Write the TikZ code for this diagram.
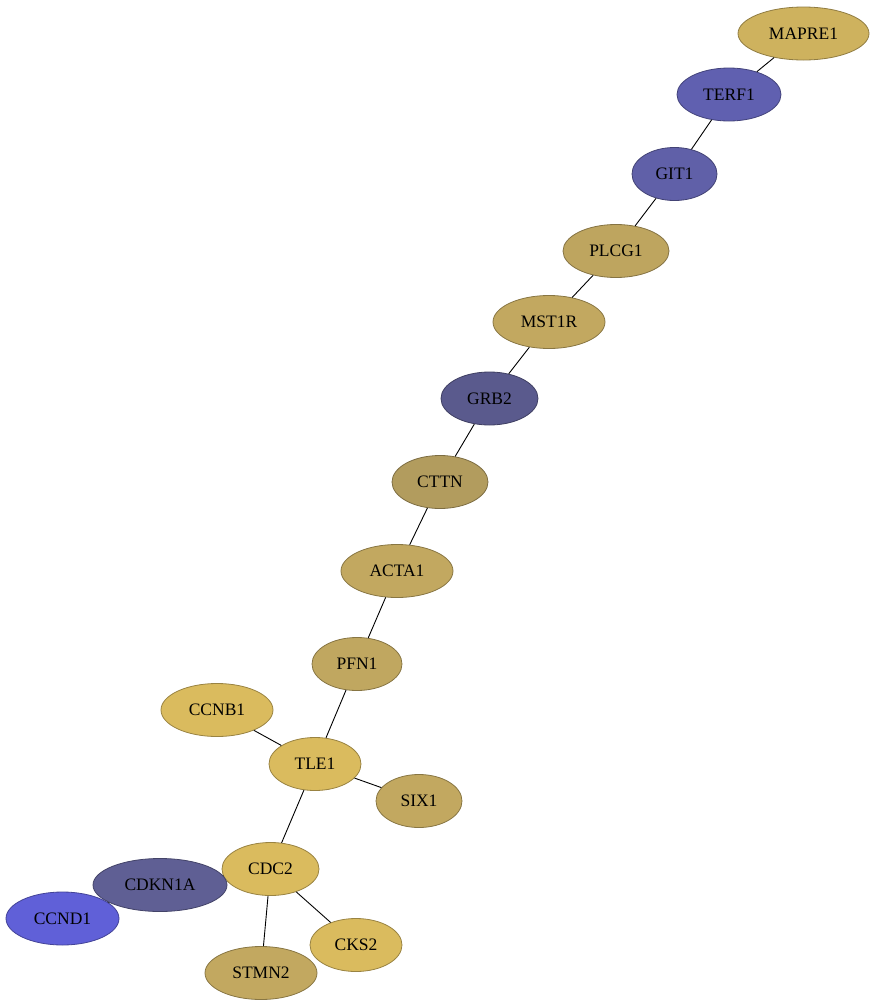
\documentclass[tikz,border=0pt]{standalone}
\usepackage{fontspec}
\setmainfont{Liberation Serif}
\usetikzlibrary{shapes.geometric}
\definecolor{gold}{HTML}{DABB5E}
\definecolor{khaki}{HTML}{C2A860}
\definecolor{olive}{HTML}{B29C5E}
\definecolor{slate}{HTML}{5F5F94}
\definecolor{violet}{HTML}{6060B0}
\definecolor{bright}{HTML}{6060D8}
\tikzset{
  protein/.style={ellipse, draw=#1!70!black, fill=#1, minimum height=53pt,
    inner sep=0pt, line width=0.8pt, font=\fontsize{17.5}{18}\selectfont},
  link/.style={black, line width=0.9pt}
}

\begin{document}
\begin{tikzpicture}[x=1pt, y=-1pt]
\useasboundingbox (0,0) rectangle (876,1007);
% Proteins
    \node[protein=gold!70!olive, minimum width=131pt] (MAPRE1) at (803.5,33.5) {MAPRE1};
    \node[protein=violet, minimum width=104pt] (TERF1) at (729,94.5) {TERF1};
    \node[protein=violet!70!slate, minimum width=85pt] (GIT1) at (674.5,174) {GIT1};
    \node[protein=khaki!75!olive, minimum width=106pt] (PLCG1) at (616,251) {PLCG1};
    \node[protein=khaki, minimum width=112pt] (MST1R) at (549,322) {MST1R};
    \node[protein=slate!95!black, minimum width=97pt] (GRB2) at (489.5,398.5) {GRB2};
    \node[protein=olive, minimum width=96pt] (CTTN) at (440,482) {CTTN};
    \node[protein=khaki, minimum width=112pt] (ACTA1) at (397,571) {ACTA1};
    \node[protein=khaki!90!olive, minimum width=90pt] (PFN1) at (357,664) {PFN1};
    \node[protein=gold, minimum width=112pt] (CCNB1) at (217,710) {CCNB1};
    \node[protein=gold, minimum width=92pt] (TLE1) at (315,764) {TLE1};
    \node[protein=khaki, minimum width=86pt] (SIX1) at (419,801) {SIX1};
    \node[protein=gold, minimum width=97pt] (CDC2) at (270.5,869) {CDC2};
    \node[protein=slate, minimum width=134pt] (CDKN1A) at (160,885) {CDKN1A};
    \node[protein=bright, minimum width=113pt] (CCND1) at (62.5,918.5) {CCND1};
    \node[protein=gold, minimum width=92pt] (CKS2) at (356,945) {CKS2};
    \node[protein=khaki, minimum width=112pt] (STMN2) at (261,973) {STMN2};
% Interactions
    \draw[link] (MAPRE1) -- (TERF1);
    \draw[link] (TERF1) -- (GIT1);
    \draw[link] (GIT1) -- (PLCG1);
    \draw[link] (PLCG1) -- (MST1R);
    \draw[link] (MST1R) -- (GRB2);
    \draw[link] (GRB2) -- (CTTN);
    \draw[link] (CTTN) -- (ACTA1);
    \draw[link] (ACTA1) -- (PFN1);
    \draw[link] (PFN1) -- (TLE1);
    \draw[link] (CCNB1) -- (TLE1);
    \draw[link] (TLE1) -- (SIX1);
    \draw[link] (TLE1) -- (CDC2);
    \draw[link] (CDC2) -- (CKS2);
    \draw[link] (CDC2) -- (STMN2);
    \draw[link] (CDKN1A) -- (CDC2);
    \draw[link] (CCND1) -- (CDKN1A);
\end{tikzpicture}
\end{document}
